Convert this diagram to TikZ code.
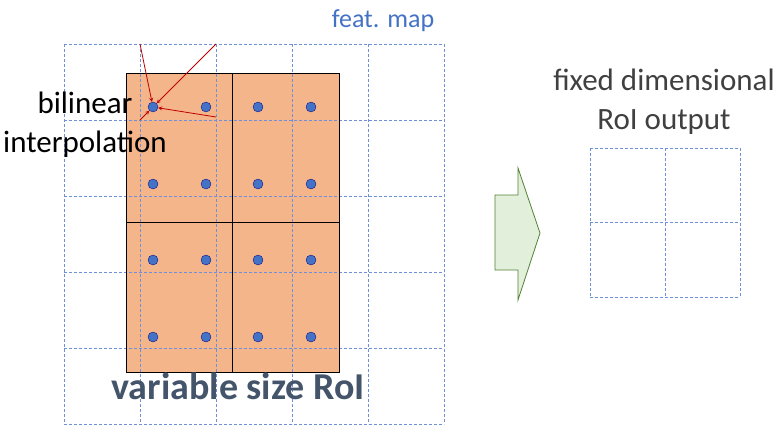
\documentclass[tikz,border=0pt]{standalone}
\usepackage{fontspec}
\setmainfont{Carlito}
\begin{document}
\begin{tikzpicture}[x=1pt,y=-1pt,
  grid/.style={draw=gridc, densely dashed, line width=0.6pt},
  dot/.style={circle, draw=blue!50!black, line width=0.3pt, inner sep=0pt, minimum size=10pt},
  red/.style={draw=red!75!black, line width=0.8pt, -stealth},
  lbl/.style={font=\fontsize{31}{39}\selectfont}]
\useasboundingbox[fill=white] (0,0) rectangle (781,441);
\definecolor{roi}{HTML}{F4B58B}
\definecolor{dotc}{HTML}{4472C4}
\definecolor{gridc}{HTML}{6F8FD8}
\definecolor{slate}{HTML}{44546A}
\definecolor{gfill}{HTML}{E2EFDA}
\definecolor{gline}{HTML}{548235}
\fill[roi] (126,73) rectangle (339,372);
\foreach \x in {64,140,216,292,368,444} \draw[grid] (\x,44) -- (\x,424);
\foreach \y in {44,120,196,272,348,424} \draw[grid] (64,\y) -- (444,\y);
\draw[line width=0.9pt] (126,73) rectangle (339,372);
\draw[line width=0.9pt] (232,73) -- (232,372) (126,222) -- (339,222);
\foreach \x/\i in {153/1,206/2,258/3,311/4}
  \foreach \y/\j in {107/1,184/2,260/3,337/4}
    \node[dot, fill=dotc] (d\i\j) at (\x,\y) {};
\coordinate (s1) at (140,44);
\coordinate (s2) at (216,44);
\coordinate (s3) at (216,117);
\coordinate (s4) at (140,120);
\draw[red] (s1) -- (d11);
\draw[red] (s2) -- (d11);
\draw[red] (s3) -- (d11);
\draw[red] (s4) -- (d11);
\node[lbl, align=center, inner sep=0pt] (bil) at (85,125) {bilinear\\interpolation};
\node[font=\fontsize{26}{30}\selectfont, text=dotc, inner sep=0pt] (fm) at (383,21) {feat. map};
\node[font=\bfseries\fontsize{38}{42}\selectfont, text=slate, inner sep=0pt] (vs) at (238,386) {variable size RoI};
\draw[gline, fill=gfill, line width=0.8pt] (495,195) -- (518,195) -- (518,168) -- (540,233) -- (518,300) -- (518,270) -- (495,270) -- cycle;
\foreach \x in {590,665,740} \draw[grid] (\x,148) -- (\x,297);
\foreach \y in {148,222,297} \draw[grid] (590,\y) -- (740,\y);
\node[lbl, align=center, inner sep=0pt, text=black!75] (out) at (664,102) {fixed dimensional\\RoI output};
\end{tikzpicture}
\end{document}
